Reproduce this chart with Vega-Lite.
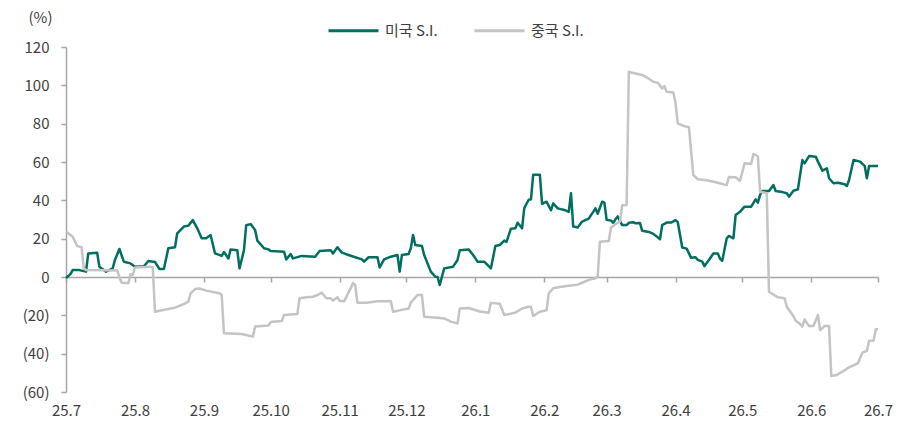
{
  "$schema": "https://vega.github.io/schema/vega-lite/v6.json",
  "width": 812,
  "height": 345,
  "autosize": "none",
  "padding": {"left": 66, "top": 47, "right": 41, "bottom": 30},
  "background": "white",
  "config": {
    "font": "Noto Sans CJK KR",
    "view": {"stroke": null},
    "axis": {"labelColor": "#404040", "labelFontSize": 15, "domainColor": "#a6a6a6", "tickColor": "#a6a6a6", "grid": false, "domainWidth": 1.5, "tickWidth": 1.5}
  },
  "data": {"values": [
    {"d":"2025-07-01","s":"미국 S.I.","v":-0.5},{"d":"2025-07-03","s":"미국 S.I.","v":1.5},{"d":"2025-07-04","s":"미국 S.I.","v":3.6},{"d":"2025-07-07","s":"미국 S.I.","v":3.6},{"d":"2025-07-10","s":"미국 S.I.","v":2.8},{"d":"2025-07-11","s":"미국 S.I.","v":12.3},{"d":"2025-07-15","s":"미국 S.I.","v":12.7},{"d":"2025-07-16","s":"미국 S.I.","v":5.4},{"d":"2025-07-19","s":"미국 S.I.","v":2.8},{"d":"2025-07-22","s":"미국 S.I.","v":4.5},{"d":"2025-07-23","s":"미국 S.I.","v":8.9},{"d":"2025-07-25","s":"미국 S.I.","v":14.6},{"d":"2025-07-27","s":"미국 S.I.","v":8},{"d":"2025-07-30","s":"미국 S.I.","v":7.1},
    {"d":"2025-08-01","s":"미국 S.I.","v":5.4},{"d":"2025-08-05","s":"미국 S.I.","v":5.6},{"d":"2025-08-07","s":"미국 S.I.","v":8.3},{"d":"2025-08-10","s":"미국 S.I.","v":7.8},{"d":"2025-08-12","s":"미국 S.I.","v":4.2},{"d":"2025-08-14","s":"미국 S.I.","v":4.2},{"d":"2025-08-16","s":"미국 S.I.","v":15},{"d":"2025-08-19","s":"미국 S.I.","v":15.5},{"d":"2025-08-20","s":"미국 S.I.","v":22.8},{"d":"2025-08-23","s":"미국 S.I.","v":26.3},{"d":"2025-08-25","s":"미국 S.I.","v":26.8},{"d":"2025-08-27","s":"미국 S.I.","v":29.7},{"d":"2025-08-29","s":"미국 S.I.","v":25.4},{"d":"2025-08-31","s":"미국 S.I.","v":20.2},
    {"d":"2025-09-02","s":"미국 S.I.","v":20.2},{"d":"2025-09-04","s":"미국 S.I.","v":21.9},{"d":"2025-09-06","s":"미국 S.I.","v":12.3},{"d":"2025-09-09","s":"미국 S.I.","v":11},{"d":"2025-09-10","s":"미국 S.I.","v":13},{"d":"2025-09-12","s":"미국 S.I.","v":9.7},{"d":"2025-09-13","s":"미국 S.I.","v":14.4},{"d":"2025-09-16","s":"미국 S.I.","v":14},{"d":"2025-09-17","s":"미국 S.I.","v":4.5},{"d":"2025-09-19","s":"미국 S.I.","v":14},{"d":"2025-09-20","s":"미국 S.I.","v":27},{"d":"2025-09-22","s":"미국 S.I.","v":27.6},{"d":"2025-09-24","s":"미국 S.I.","v":24.5},{"d":"2025-09-25","s":"미국 S.I.","v":19},{"d":"2025-09-28","s":"미국 S.I.","v":15},{"d":"2025-09-30","s":"미국 S.I.","v":14.4},
    {"d":"2025-10-01","s":"미국 S.I.","v":13.6},{"d":"2025-10-07","s":"미국 S.I.","v":13.2},{"d":"2025-10-08","s":"미국 S.I.","v":9.2},{"d":"2025-10-10","s":"미국 S.I.","v":12},{"d":"2025-10-11","s":"미국 S.I.","v":9.7},{"d":"2025-10-15","s":"미국 S.I.","v":11},{"d":"2025-10-21","s":"미국 S.I.","v":10.6},{"d":"2025-10-23","s":"미국 S.I.","v":13.6},{"d":"2025-10-28","s":"미국 S.I.","v":14},{"d":"2025-10-29","s":"미국 S.I.","v":12.3},{"d":"2025-10-31","s":"미국 S.I.","v":15.5},
    {"d":"2025-11-02","s":"미국 S.I.","v":12.7},{"d":"2025-11-05","s":"미국 S.I.","v":11.5},{"d":"2025-11-08","s":"미국 S.I.","v":10.3},{"d":"2025-11-11","s":"미국 S.I.","v":9.2},{"d":"2025-11-12","s":"미국 S.I.","v":8},{"d":"2025-11-14","s":"미국 S.I.","v":10.3},{"d":"2025-11-18","s":"미국 S.I.","v":10.3},{"d":"2025-11-19","s":"미국 S.I.","v":5},{"d":"2025-11-21","s":"미국 S.I.","v":9.2},{"d":"2025-11-24","s":"미국 S.I.","v":10.6},{"d":"2025-11-27","s":"미국 S.I.","v":11.5},{"d":"2025-11-28","s":"미국 S.I.","v":2.8},{"d":"2025-11-29","s":"미국 S.I.","v":11.5},
    {"d":"2025-12-02","s":"미국 S.I.","v":12},{"d":"2025-12-03","s":"미국 S.I.","v":15},{"d":"2025-12-04","s":"미국 S.I.","v":21.9},{"d":"2025-12-05","s":"미국 S.I.","v":16.7},{"d":"2025-12-08","s":"미국 S.I.","v":16.2},{"d":"2025-12-09","s":"미국 S.I.","v":11.5},{"d":"2025-12-12","s":"미국 S.I.","v":2.8},{"d":"2025-12-14","s":"미국 S.I.","v":0.2},{"d":"2025-12-15","s":"미국 S.I.","v":0},{"d":"2025-12-16","s":"미국 S.I.","v":-4.2},{"d":"2025-12-18","s":"미국 S.I.","v":4.5},{"d":"2025-12-22","s":"미국 S.I.","v":5.4},{"d":"2025-12-24","s":"미국 S.I.","v":8.9},{"d":"2025-12-25","s":"미국 S.I.","v":14},{"d":"2025-12-29","s":"미국 S.I.","v":14.4},{"d":"2025-12-31","s":"미국 S.I.","v":11.5},
    {"d":"2026-01-02","s":"미국 S.I.","v":8},{"d":"2026-01-05","s":"미국 S.I.","v":8},{"d":"2026-01-08","s":"미국 S.I.","v":4.5},{"d":"2026-01-10","s":"미국 S.I.","v":16.2},{"d":"2026-01-12","s":"미국 S.I.","v":16.7},{"d":"2026-01-14","s":"미국 S.I.","v":19},{"d":"2026-01-15","s":"미국 S.I.","v":18.3},{"d":"2026-01-17","s":"미국 S.I.","v":25.2},{"d":"2026-01-19","s":"미국 S.I.","v":25.4},{"d":"2026-01-20","s":"미국 S.I.","v":28.3},{"d":"2026-01-22","s":"미국 S.I.","v":25.4},{"d":"2026-01-23","s":"미국 S.I.","v":36},{"d":"2026-01-25","s":"미국 S.I.","v":40.3},{"d":"2026-01-26","s":"미국 S.I.","v":40.5},{"d":"2026-01-27","s":"미국 S.I.","v":53.4},{"d":"2026-01-30","s":"미국 S.I.","v":53.4},{"d":"2026-01-31","s":"미국 S.I.","v":38.2},
    {"d":"2026-02-02","s":"미국 S.I.","v":39.3},{"d":"2026-02-04","s":"미국 S.I.","v":34.8},{"d":"2026-02-05","s":"미국 S.I.","v":38.4},{"d":"2026-02-07","s":"미국 S.I.","v":35.8},{"d":"2026-02-10","s":"미국 S.I.","v":35},{"d":"2026-02-12","s":"미국 S.I.","v":34},{"d":"2026-02-13","s":"미국 S.I.","v":43.7},{"d":"2026-02-14","s":"미국 S.I.","v":26.3},{"d":"2026-02-16","s":"미국 S.I.","v":25.8},{"d":"2026-02-18","s":"미국 S.I.","v":28.9},{"d":"2026-02-21","s":"미국 S.I.","v":30.5},{"d":"2026-02-22","s":"미국 S.I.","v":32.3},{"d":"2026-02-23","s":"미국 S.I.","v":34},{"d":"2026-02-24","s":"미국 S.I.","v":35.8},{"d":"2026-02-25","s":"미국 S.I.","v":33},{"d":"2026-02-27","s":"미국 S.I.","v":39.3},{"d":"2026-02-28","s":"미국 S.I.","v":38.8},
    {"d":"2026-03-01","s":"미국 S.I.","v":29.9},{"d":"2026-03-03","s":"미국 S.I.","v":29.4},{"d":"2026-03-04","s":"미국 S.I.","v":28.3},{"d":"2026-03-05","s":"미국 S.I.","v":30.1},{"d":"2026-03-06","s":"미국 S.I.","v":31.6},{"d":"2026-03-08","s":"미국 S.I.","v":27.1},{"d":"2026-03-10","s":"미국 S.I.","v":27.1},{"d":"2026-03-11","s":"미국 S.I.","v":28.3},{"d":"2026-03-13","s":"미국 S.I.","v":28.6},{"d":"2026-03-14","s":"미국 S.I.","v":28},{"d":"2026-03-16","s":"미국 S.I.","v":28.2},{"d":"2026-03-17","s":"미국 S.I.","v":24.1},{"d":"2026-03-20","s":"미국 S.I.","v":23.5},{"d":"2026-03-22","s":"미국 S.I.","v":22.5},{"d":"2026-03-24","s":"미국 S.I.","v":20.7},{"d":"2026-03-25","s":"미국 S.I.","v":19.7},{"d":"2026-03-26","s":"미국 S.I.","v":27.1},{"d":"2026-03-28","s":"미국 S.I.","v":28.4},{"d":"2026-03-30","s":"미국 S.I.","v":28.4},
    {"d":"2026-04-01","s":"미국 S.I.","v":29.7},{"d":"2026-04-02","s":"미국 S.I.","v":28.6},{"d":"2026-04-04","s":"미국 S.I.","v":15.4},{"d":"2026-04-06","s":"미국 S.I.","v":14.8},{"d":"2026-04-08","s":"미국 S.I.","v":10},{"d":"2026-04-10","s":"미국 S.I.","v":10.3},{"d":"2026-04-11","s":"미국 S.I.","v":8.9},{"d":"2026-04-13","s":"미국 S.I.","v":8},{"d":"2026-04-14","s":"미국 S.I.","v":5.7},{"d":"2026-04-16","s":"미국 S.I.","v":8.9},{"d":"2026-04-18","s":"미국 S.I.","v":12.3},{"d":"2026-04-20","s":"미국 S.I.","v":12.3},{"d":"2026-04-21","s":"미국 S.I.","v":9.5},{"d":"2026-04-22","s":"미국 S.I.","v":8.5},{"d":"2026-04-24","s":"미국 S.I.","v":20.2},{"d":"2026-04-25","s":"미국 S.I.","v":21.4},{"d":"2026-04-27","s":"미국 S.I.","v":20.2},{"d":"2026-04-28","s":"미국 S.I.","v":32.3},{"d":"2026-04-30","s":"미국 S.I.","v":34},
    {"d":"2026-05-02","s":"미국 S.I.","v":36.7},{"d":"2026-05-05","s":"미국 S.I.","v":36.7},{"d":"2026-05-07","s":"미국 S.I.","v":40.5},{"d":"2026-05-08","s":"미국 S.I.","v":38.8},{"d":"2026-05-09","s":"미국 S.I.","v":42.8},{"d":"2026-05-10","s":"미국 S.I.","v":44.9},{"d":"2026-05-13","s":"미국 S.I.","v":44.9},{"d":"2026-05-15","s":"미국 S.I.","v":48},{"d":"2026-05-16","s":"미국 S.I.","v":44.9},{"d":"2026-05-19","s":"미국 S.I.","v":44.3},{"d":"2026-05-21","s":"미국 S.I.","v":43.7},{"d":"2026-05-22","s":"미국 S.I.","v":41.9},{"d":"2026-05-24","s":"미국 S.I.","v":45},{"d":"2026-05-26","s":"미국 S.I.","v":45.7},{"d":"2026-05-28","s":"미국 S.I.","v":61},{"d":"2026-05-29","s":"미국 S.I.","v":59.3},{"d":"2026-05-31","s":"미국 S.I.","v":63.1},
    {"d":"2026-06-03","s":"미국 S.I.","v":62.8},{"d":"2026-06-04","s":"미국 S.I.","v":60.2},{"d":"2026-06-06","s":"미국 S.I.","v":55.5},{"d":"2026-06-08","s":"미국 S.I.","v":56.7},{"d":"2026-06-09","s":"미국 S.I.","v":51.5},{"d":"2026-06-11","s":"미국 S.I.","v":48.9},{"d":"2026-06-13","s":"미국 S.I.","v":49.2},{"d":"2026-06-16","s":"미국 S.I.","v":48.4},{"d":"2026-06-17","s":"미국 S.I.","v":47.5},{"d":"2026-06-18","s":"미국 S.I.","v":50.6},{"d":"2026-06-20","s":"미국 S.I.","v":61},{"d":"2026-06-23","s":"미국 S.I.","v":60.2},{"d":"2026-06-24","s":"미국 S.I.","v":59},{"d":"2026-06-25","s":"미국 S.I.","v":58},{"d":"2026-06-26","s":"미국 S.I.","v":51.5},{"d":"2026-06-27","s":"미국 S.I.","v":57.9},{"d":"2026-07-01","s":"미국 S.I.","v":57.9},

    {"d":"2025-07-01","s":"중국 S.I.","v":23.7},{"d":"2025-07-04","s":"중국 S.I.","v":21},{"d":"2025-07-06","s":"중국 S.I.","v":16.2},{"d":"2025-07-08","s":"중국 S.I.","v":15.6},{"d":"2025-07-09","s":"중국 S.I.","v":4.5},{"d":"2025-07-10","s":"중국 S.I.","v":3.6},{"d":"2025-07-24","s":"중국 S.I.","v":3.4},{"d":"2025-07-25","s":"중국 S.I.","v":0},{"d":"2025-07-26","s":"중국 S.I.","v":-3},{"d":"2025-07-29","s":"중국 S.I.","v":-3.3},{"d":"2025-07-30","s":"중국 S.I.","v":1.5},{"d":"2025-07-31","s":"중국 S.I.","v":1},
    {"d":"2025-08-01","s":"중국 S.I.","v":5},{"d":"2025-08-08","s":"중국 S.I.","v":5.4},{"d":"2025-08-09","s":"중국 S.I.","v":5},{"d":"2025-08-10","s":"중국 S.I.","v":-18.1},{"d":"2025-08-12","s":"중국 S.I.","v":-17.6},{"d":"2025-08-17","s":"중국 S.I.","v":-16.4},{"d":"2025-08-19","s":"중국 S.I.","v":-16},{"d":"2025-08-23","s":"중국 S.I.","v":-14.1},{"d":"2025-08-25","s":"중국 S.I.","v":-12.9},{"d":"2025-08-26","s":"중국 S.I.","v":-8.5},{"d":"2025-08-28","s":"중국 S.I.","v":-6.3},{"d":"2025-08-30","s":"중국 S.I.","v":-6},
    {"d":"2025-09-02","s":"중국 S.I.","v":-7.1},{"d":"2025-09-08","s":"중국 S.I.","v":-8.5},{"d":"2025-09-09","s":"중국 S.I.","v":-9.4},{"d":"2025-09-10","s":"중국 S.I.","v":-29.4},{"d":"2025-09-18","s":"중국 S.I.","v":-29.7},{"d":"2025-09-23","s":"중국 S.I.","v":-31.1},{"d":"2025-09-24","s":"중국 S.I.","v":-25.8},{"d":"2025-09-30","s":"중국 S.I.","v":-25.3},
    {"d":"2025-10-01","s":"중국 S.I.","v":-23.5},{"d":"2025-10-06","s":"중국 S.I.","v":-23},{"d":"2025-10-07","s":"중국 S.I.","v":-19.8},{"d":"2025-10-13","s":"중국 S.I.","v":-19.3},{"d":"2025-10-14","s":"중국 S.I.","v":-11.1},{"d":"2025-10-17","s":"중국 S.I.","v":-10.6},{"d":"2025-10-20","s":"중국 S.I.","v":-10.3},{"d":"2025-10-22","s":"중국 S.I.","v":-9.4},{"d":"2025-10-24","s":"중국 S.I.","v":-8.2},{"d":"2025-10-26","s":"중국 S.I.","v":-11.1},{"d":"2025-10-28","s":"중국 S.I.","v":-11.1},{"d":"2025-10-29","s":"중국 S.I.","v":-12.3},{"d":"2025-10-31","s":"중국 S.I.","v":-10.6},
    {"d":"2025-11-01","s":"중국 S.I.","v":-12.4},{"d":"2025-11-03","s":"중국 S.I.","v":-12.7},{"d":"2025-11-06","s":"중국 S.I.","v":-5.8},{"d":"2025-11-07","s":"중국 S.I.","v":-3.2},{"d":"2025-11-08","s":"중국 S.I.","v":-4.3},{"d":"2025-11-09","s":"중국 S.I.","v":-13.4},{"d":"2025-11-13","s":"중국 S.I.","v":-13.4},{"d":"2025-11-18","s":"중국 S.I.","v":-12.6},{"d":"2025-11-24","s":"중국 S.I.","v":-12.5},{"d":"2025-11-25","s":"중국 S.I.","v":-18.1},{"d":"2025-11-30","s":"중국 S.I.","v":-16.9},
    {"d":"2025-12-02","s":"중국 S.I.","v":-16.4},{"d":"2025-12-03","s":"중국 S.I.","v":-13.4},{"d":"2025-12-06","s":"중국 S.I.","v":-9.4},{"d":"2025-12-08","s":"중국 S.I.","v":-9.4},{"d":"2025-12-09","s":"중국 S.I.","v":-20.7},{"d":"2025-12-15","s":"중국 S.I.","v":-21.3},{"d":"2025-12-18","s":"중국 S.I.","v":-21.6},{"d":"2025-12-21","s":"중국 S.I.","v":-23.3},{"d":"2025-12-24","s":"중국 S.I.","v":-24.2},{"d":"2025-12-25","s":"중국 S.I.","v":-16.4},{"d":"2025-12-29","s":"중국 S.I.","v":-16.2},
    {"d":"2026-01-03","s":"중국 S.I.","v":-18},{"d":"2026-01-07","s":"중국 S.I.","v":-18.6},{"d":"2026-01-08","s":"중국 S.I.","v":-13.5},{"d":"2026-01-12","s":"중국 S.I.","v":-14},{"d":"2026-01-14","s":"중국 S.I.","v":-19.8},{"d":"2026-01-19","s":"중국 S.I.","v":-18.6},{"d":"2026-01-22","s":"중국 S.I.","v":-16.4},{"d":"2026-01-25","s":"중국 S.I.","v":-15.5},{"d":"2026-01-26","s":"중국 S.I.","v":-15.5},{"d":"2026-01-27","s":"중국 S.I.","v":-20.3},{"d":"2026-01-30","s":"중국 S.I.","v":-18.1},
    {"d":"2026-02-02","s":"중국 S.I.","v":-17.4},{"d":"2026-02-03","s":"중국 S.I.","v":-8.5},{"d":"2026-02-05","s":"중국 S.I.","v":-5.9},{"d":"2026-02-08","s":"중국 S.I.","v":-5.2},{"d":"2026-02-11","s":"중국 S.I.","v":-4.7},{"d":"2026-02-16","s":"중국 S.I.","v":-4},{"d":"2026-02-18","s":"중국 S.I.","v":-3},{"d":"2026-02-21","s":"중국 S.I.","v":-1.5},{"d":"2026-02-24","s":"중국 S.I.","v":-0.7},{"d":"2026-02-25","s":"중국 S.I.","v":0.3},{"d":"2026-02-26","s":"중국 S.I.","v":18.4},
    {"d":"2026-03-02","s":"중국 S.I.","v":18.8},{"d":"2026-03-03","s":"중국 S.I.","v":25.8},{"d":"2026-03-05","s":"중국 S.I.","v":27.5},{"d":"2026-03-07","s":"중국 S.I.","v":28.9},{"d":"2026-03-08","s":"중국 S.I.","v":37.4},{"d":"2026-03-10","s":"중국 S.I.","v":37.6},{"d":"2026-03-11","s":"중국 S.I.","v":107.1},{"d":"2026-03-12","s":"중국 S.I.","v":106.7},{"d":"2026-03-17","s":"중국 S.I.","v":105.4},{"d":"2026-03-19","s":"중국 S.I.","v":104.2},{"d":"2026-03-22","s":"중국 S.I.","v":101.9},{"d":"2026-03-24","s":"중국 S.I.","v":101.3},{"d":"2026-03-26","s":"중국 S.I.","v":98.4},{"d":"2026-03-27","s":"중국 S.I.","v":99.6},{"d":"2026-03-28","s":"중국 S.I.","v":96.7},{"d":"2026-03-31","s":"중국 S.I.","v":96.3},
    {"d":"2026-04-01","s":"중국 S.I.","v":90.6},{"d":"2026-04-02","s":"중국 S.I.","v":80.2},{"d":"2026-04-05","s":"중국 S.I.","v":78.6},{"d":"2026-04-07","s":"중국 S.I.","v":78.2},{"d":"2026-04-09","s":"중국 S.I.","v":53.2},{"d":"2026-04-11","s":"중국 S.I.","v":51},{"d":"2026-04-15","s":"중국 S.I.","v":50.5},{"d":"2026-04-20","s":"중국 S.I.","v":49.2},{"d":"2026-04-23","s":"중국 S.I.","v":48.2},{"d":"2026-04-24","s":"중국 S.I.","v":48},{"d":"2026-04-25","s":"중국 S.I.","v":52.2},{"d":"2026-04-28","s":"중국 S.I.","v":52},{"d":"2026-04-30","s":"중국 S.I.","v":50.2},
    {"d":"2026-05-02","s":"중국 S.I.","v":59.3},{"d":"2026-05-05","s":"중국 S.I.","v":59},{"d":"2026-05-06","s":"중국 S.I.","v":64.2},{"d":"2026-05-08","s":"중국 S.I.","v":63},{"d":"2026-05-09","s":"중국 S.I.","v":44.5},{"d":"2026-05-12","s":"중국 S.I.","v":43.7},{"d":"2026-05-13","s":"중국 S.I.","v":-7.7},{"d":"2026-05-17","s":"중국 S.I.","v":-10.6},{"d":"2026-05-20","s":"중국 S.I.","v":-11.1},{"d":"2026-05-21","s":"중국 S.I.","v":-15.5},{"d":"2026-05-24","s":"중국 S.I.","v":-20.5},{"d":"2026-05-25","s":"중국 S.I.","v":-22.8},{"d":"2026-05-27","s":"중국 S.I.","v":-24.5},{"d":"2026-05-28","s":"중국 S.I.","v":-25.9},{"d":"2026-05-29","s":"중국 S.I.","v":-22.1},{"d":"2026-05-31","s":"중국 S.I.","v":-25.6},
    {"d":"2026-06-02","s":"중국 S.I.","v":-25.6},{"d":"2026-06-04","s":"중국 S.I.","v":-19.8},{"d":"2026-06-05","s":"중국 S.I.","v":-27.7},{"d":"2026-06-07","s":"중국 S.I.","v":-25.6},{"d":"2026-06-09","s":"중국 S.I.","v":-25.6},{"d":"2026-06-10","s":"중국 S.I.","v":-51.7},{"d":"2026-06-12","s":"중국 S.I.","v":-51.3},{"d":"2026-06-15","s":"중국 S.I.","v":-49.4},{"d":"2026-06-18","s":"중국 S.I.","v":-47.1},{"d":"2026-06-22","s":"중국 S.I.","v":-45},{"d":"2026-06-24","s":"중국 S.I.","v":-39.5},{"d":"2026-06-26","s":"중국 S.I.","v":-38.5},{"d":"2026-06-27","s":"중국 S.I.","v":-33.2},{"d":"2026-06-29","s":"중국 S.I.","v":-33.2},{"d":"2026-06-30","s":"중국 S.I.","v":-27.3},{"d":"2026-07-01","s":"중국 S.I.","v":-27.3}
  ]},
  "mark": {"type": "line", "strokeWidth": 2.5, "strokeJoin": "round", "clip": false},
  "encoding": {
    "x": {
      "field": "d", "type": "temporal",
      "scale": {"type": "utc", "domain": [{"year": 2025, "month": 7, "date": 1, "utc": true}, {"year": 2026, "month": 7, "date": 1, "utc": true}]},
      "axis": {
        "title": null,
        "offset": -115,
        "tickSize": 5,
        "labelPadding": 121,
        "format": "%y.%-m",
        "labelFlush": false,
        "labelOverlap": false,
        "values": [
          {"year": 2025, "month": 7, "date": 1, "utc": true},{"year": 2025, "month": 8, "date": 1, "utc": true},{"year": 2025, "month": 9, "date": 1, "utc": true},{"year": 2025, "month": 10, "date": 1, "utc": true},{"year": 2025, "month": 11, "date": 1, "utc": true},{"year": 2025, "month": 12, "date": 1, "utc": true},{"year": 2026, "month": 1, "date": 1, "utc": true},{"year": 2026, "month": 2, "date": 1, "utc": true},{"year": 2026, "month": 3, "date": 1, "utc": true},{"year": 2026, "month": 4, "date": 1, "utc": true},{"year": 2026, "month": 5, "date": 1, "utc": true},{"year": 2026, "month": 6, "date": 1, "utc": true},{"year": 2026, "month": 7, "date": 1, "utc": true}
        ]
      }
    },
    "y": {
      "field": "v", "type": "quantitative",
      "scale": {"domain": [-60, 120], "nice": false, "zero": false},
      "axis": {
        "title": "(%)",
        "titleAngle": 0,
        "titleAlign": "center",
        "titleBaseline": "middle",
        "titleX": -26,
        "titleY": -30,
        "titleFontSize": 15,
        "titleFontWeight": "normal",
        "titleColor": "#404040",
        "values": [-60, -40, -20, 0, 20, 40, 60, 80, 100, 120],
        "tickSize": 5,
        "labelPadding": 12,
        "labelExpr": "datum.value < 0 ? '(' + (-datum.value) + ')' : datum.label"
      }
    },
    "color": {
      "field": "s", "type": "nominal",
      "scale": {"domain": ["미국 S.I.", "중국 S.I."], "range": ["#006F5F", "#C4C4C4"]},
      "legend": {
        "title": null,
        "orient": "none",
        "direction": "horizontal",
        "legendX": 261,
        "legendY": -43,
        "symbolType": "stroke",
        "symbolSize": 2500,
        "symbolStrokeWidth": 3,
        "labelFontSize": 15,
        "labelColor": "#404040",
        "columnPadding": 30,
        "labelOffset": 5
      }
    }
  }
}
